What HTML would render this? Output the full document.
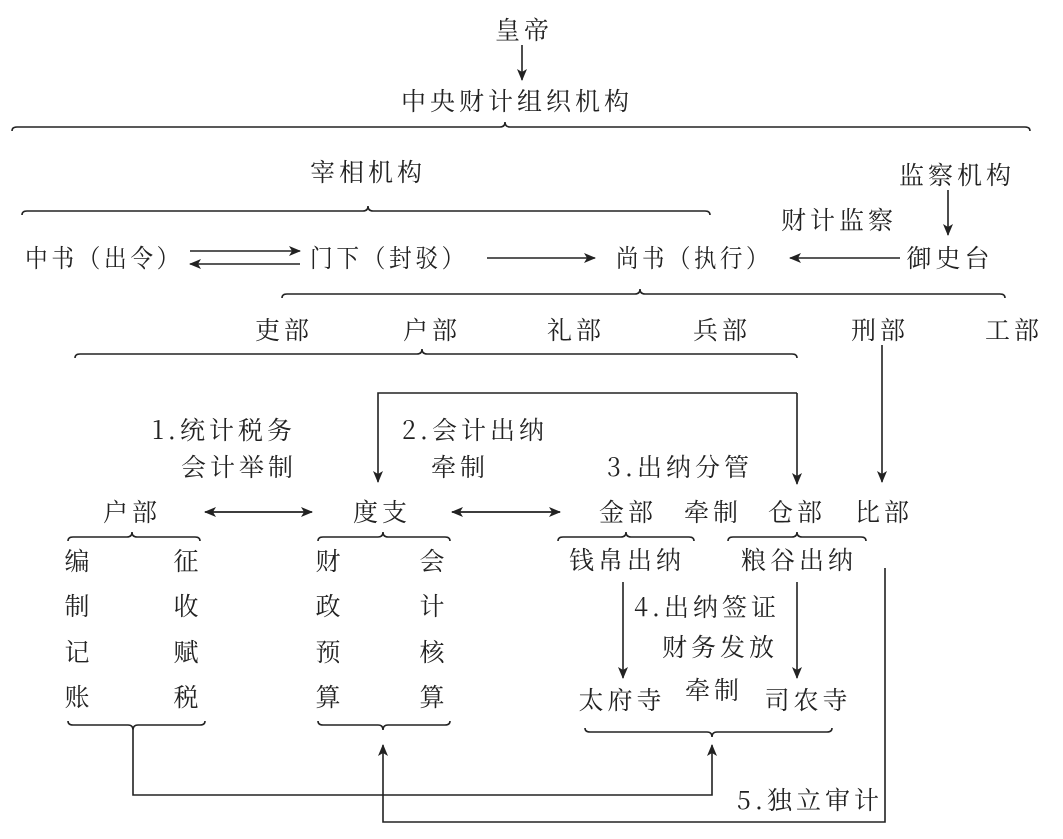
<!DOCTYPE html>
<html><head><meta charset="utf-8"><style>
html,body{margin:0;padding:0;background:#fff;}
svg text{font-family:"Noto Serif CJK SC","Liberation Serif",serif;font-size:25px;fill:#222;letter-spacing:4px;}
</style></head><body>
<svg width="1063" height="834" viewBox="0 0 1063 834" xmlns="http://www.w3.org/2000/svg">
<defs><marker id="a" markerWidth="12" markerHeight="10" refX="11" refY="5" orient="auto" markerUnits="userSpaceOnUse"><path d="M0,0 L12,5 L0,10 L3,5z" fill="#222"/></marker></defs>
<g fill="none" stroke="#222" stroke-width="1.6">
<path d="M12,131 Q12,127 17,127 L500,127 Q505,127 505,122 Q505,127 510,127 L1025,127 Q1030,127 1030,131"/>
<path d="M22,215 Q22,211 27,211 L363,211 Q368,211 368,206 Q368,211 373,211 L705,211 Q710,211 710,215"/>
<path d="M282,298 Q282,294 287,294 L635,294 Q640,294 640,289 Q640,294 645,294 L1000,294 Q1005,294 1005,298"/>
<path d="M75,358 Q75,354 80,354 L417,354 Q422,354 422,349 Q422,354 427,354 L792,354 Q797,354 797,358"/>
<path d="M68,541 Q68,537 73,537 L127,537 Q132,537 132,532 Q132,537 137,537 L195,537 Q200,537 200,541"/>
<path d="M318,541 Q318,537 323,537 L378,537 Q383,537 383,532 Q383,537 388,537 L445,537 Q450,537 450,541"/>
<path d="M558,541 Q558,537 563,537 L621,537 Q626,537 626,532 Q626,537 631,537 L689,537 Q694,537 694,541"/>
<path d="M728,541 Q728,537 733,537 L792,537 Q797,537 797,532 Q797,537 802,537 L861,537 Q866,537 866,541"/>
<path d="M68,721 Q68,725 73,725 L128,725 Q133,725 133,730 Q133,725 138,725 L200,725 Q205,725 205,721"/>
<path d="M318,721 Q318,725 323,725 L378,725 Q383,725 383,730 Q383,725 388,725 L445,725 Q450,725 450,721"/>
<path d="M585,728 Q585,732 590,732 L707,732 Q712,732 712,737 Q712,732 717,732 L827,732 Q832,732 832,728"/>
<path d="M522,45 L522,80" marker-end="url(#a)"/>
<path d="M948,190 L948,235" marker-end="url(#a)"/>
<path d="M190,251 L300,251" marker-end="url(#a)"/>
<path d="M300,264 L190,264" marker-end="url(#a)"/>
<path d="M487,258 L595,258" marker-end="url(#a)"/>
<path d="M900,258 L790,258" marker-end="url(#a)"/>
<path d="M797,393 L378,393 L378,482" marker-end="url(#a)"/>
<path d="M797,393 L797,484" marker-end="url(#a)"/>
<path d="M882,345 L882,482" marker-end="url(#a)"/>
<path d="M205,512 L312,512" marker-end="url(#a)"/>
<path d="M312,512 L205,512" marker-end="url(#a)"/>
<path d="M452,512 L560,512" marker-end="url(#a)"/>
<path d="M560,512 L452,512" marker-end="url(#a)"/>
<path d="M623,582 L623,678" marker-end="url(#a)"/>
<path d="M797,582 L797,678" marker-end="url(#a)"/>
<path d="M133,730 L133,795 L712,795 L712,745" marker-end="url(#a)"/>
<path d="M885,568 L885,822 L383,822 L383,745" marker-end="url(#a)"/>
</g>
<g text-anchor="start">
<text x="25" y="267" letter-spacing="0" textLength="158" lengthAdjust="spacingAndGlyphs">中书（出令）</text>
<text x="310" y="267" letter-spacing="0" textLength="158" lengthAdjust="spacingAndGlyphs">门下（封驳）</text>
<text x="616" y="267" letter-spacing="0" textLength="156" lengthAdjust="spacingAndGlyphs">尚书（执行）</text>
</g>
<g text-anchor="middle">
<text x="524" y="39">皇帝</text>
<text x="517" y="110">中央财计组织机构</text>
<text x="368" y="181">宰相机构</text>
<text x="957" y="184">监察机构</text>
<text x="839" y="229">财计监察</text>
<text x="950" y="267">御史台</text>
<text x="284" y="339">吏部</text>
<text x="432" y="339">户部</text>
<text x="576" y="339">礼部</text>
<text x="722" y="339">兵部</text>
<text x="880" y="339">刑部</text>
<text x="1014" y="339">工部</text>
<text x="224" y="439">1.统计税务</text>
<text x="239" y="476">会计举制</text>
<text x="475" y="439">2.会计出纳</text>
<text x="460" y="476">牵制</text>
<text x="680" y="476">3.出纳分管</text>
<text x="132" y="521">户部</text>
<text x="382" y="521">度支</text>
<text x="628" y="521">金部</text>
<text x="713" y="521">牵制</text>
<text x="797" y="521">仓部</text>
<text x="884" y="521">比部</text>
<text x="79" y="570">编</text><text x="188" y="570">征</text>
<text x="79" y="615">制</text><text x="188" y="615">收</text>
<text x="79" y="661">记</text><text x="188" y="661">赋</text>
<text x="79" y="706">账</text><text x="188" y="706">税</text>
<text x="330" y="570">财</text><text x="434" y="570">会</text>
<text x="330" y="615">政</text><text x="434" y="615">计</text>
<text x="330" y="661">预</text><text x="434" y="661">核</text>
<text x="330" y="706">算</text><text x="434" y="706">算</text>
<text x="627" y="569">钱帛出纳</text>
<text x="799" y="569">粮谷出纳</text>
<text x="707" y="616">4.出纳签证</text>
<text x="720" y="656">财务发放</text>
<text x="622" y="709">太府寺</text>
<text x="714" y="699">牵制</text>
<text x="808" y="709">司农寺</text>
<text x="810" y="809">5.独立审计</text>
</g>
</svg>
</body></html>
